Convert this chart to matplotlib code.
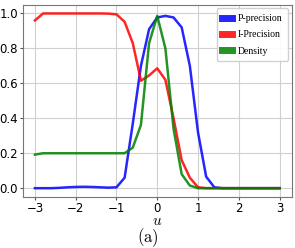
import numpy as np
import matplotlib
matplotlib.use("Agg")
import matplotlib.pyplot as plt

plt.rcParams['mathtext.fontset'] = 'cm'

u = np.round(np.arange(-3, 3.01, 0.2), 1)

p_precision = [0.0, 0.0, 0.0, 0.002, 0.005, 0.007, 0.008, 0.007, 0.005, 0.003, 0.005,
               0.06, 0.37, 0.70, 0.91, 0.977, 0.986, 0.977, 0.92, 0.70, 0.32,
               0.066, 0.005, 0.0, 0.0, 0.0, 0.0, 0.0, 0.0, 0.0, 0.0]
i_precision = [0.96, 1.0, 1.0, 1.0, 1.0, 1.0, 1.0, 1.0, 1.0, 0.999, 0.995,
               0.952, 0.83, 0.615, 0.645, 0.686, 0.62, 0.40, 0.16, 0.06, 0.005,
               0.0, 0.0, 0.0, 0.0, 0.0, 0.0, 0.0, 0.0, 0.0, 0.0]
density = [0.192, 0.2, 0.2, 0.2, 0.2, 0.2, 0.2, 0.2, 0.2, 0.2, 0.2,
           0.2, 0.232, 0.362, 0.83, 0.986, 0.80, 0.34, 0.08, 0.015, 0.0,
           0.0, 0.0, 0.0, 0.0, 0.0, 0.0, 0.0, 0.0, 0.0, 0.0]

labels = ['P-precision', 'I-Precision', 'Density']
colors = ['#0000ff', '#ff0000', '#008000']

fig = plt.figure(figsize=(2.95, 2.48), dpi=100)
ax = fig.add_axes([0.077, 0.206, 0.912, 0.775])

for vals, lab, col in zip([p_precision, i_precision, density], labels, colors):
    ax.plot(u, vals, color=col, lw=1.8, alpha=0.85, label=lab)

ax.set_xticks([-3, -2, -1, 0, 1, 2, 3])
ax.set_yticks([0.0, 0.2, 0.4, 0.6, 0.8, 1.0])
ax.tick_params(labelsize=8.5, length=2.5, pad=1, color='#555555')
ax.grid(True, color='#d0d0d0', lw=0.8)
for s in ax.spines.values():
    s.set_color('#777777')
    s.set_linewidth(0.8)

ax.set_xlabel(r'$u$', fontsize=11, labelpad=-1)
leg = ax.legend(loc='upper right', prop={'family': 'Liberation Serif', 'size': 7},
                handlelength=1.0, handletextpad=0.6, labelspacing=0.75,
                borderpad=0.6, borderaxespad=0.35, fancybox=True, framealpha=0.9)
for line in leg.get_lines():
    line.set_linewidth(5)

fig.text(0.502, 0.04, r'$\mathrm{(a)}$', ha='center', va='center', fontsize=12)

fig.savefig('out.png', dpi=100)
